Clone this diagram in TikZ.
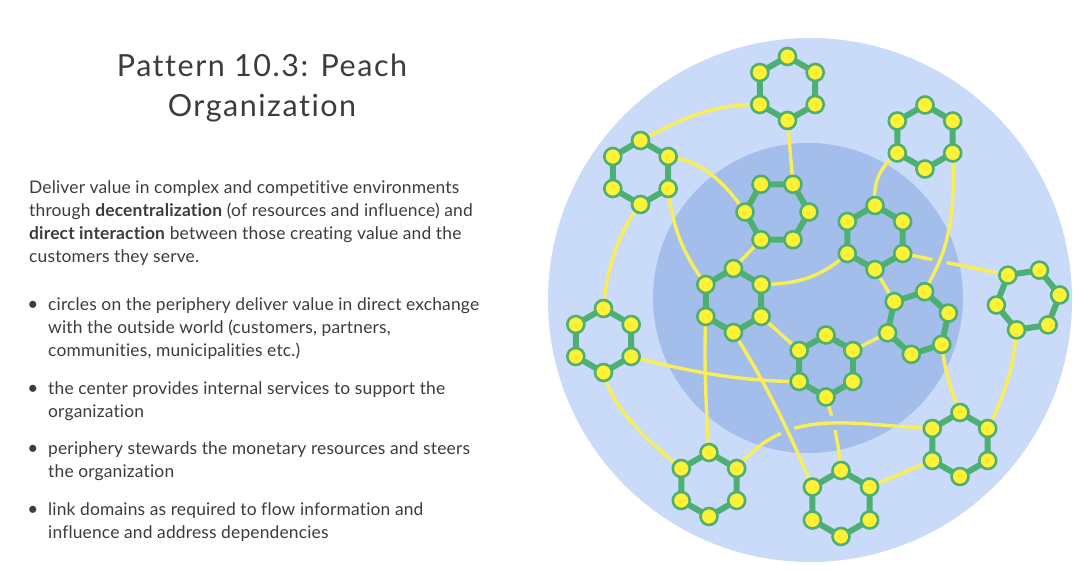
\documentclass[tikz,border=0pt]{standalone}
\usepackage{fontspec}
\setmainfont{Lato}[Ligatures=NoCommon, LetterSpace=1]
\newfontfamily\titlefont{Lato}[Ligatures=NoCommon, LetterSpace=5]
\usetikzlibrary{calc}
\definecolor{outerblue}{RGB}{201,219,248}
\definecolor{innerblue}{RGB}{164,190,235}
\definecolor{hexgreen}{RGB}{78,175,114}
\definecolor{dotyellow}{RGB}{255,242,54}
\definecolor{linkyellow}{RGB}{248,238,88}
\definecolor{textgray}{RGB}{60,60,60}
\pgfdeclarelayer{hexl}
\pgfdeclarelayer{dotl}
\pgfsetlayers{main,hexl,dotl}
\tikzset{
  dot/.style={circle, fill=dotyellow, draw=hexgreen, line width=2.6pt, minimum size=17pt, inner sep=0pt},
  hexedge/.style={draw=hexgreen, line width=6pt, line join=round},
  link/.style={draw=linkyellow, line width=3.4pt, line cap=round},
  halo/.style={draw=innerblue, line width=14pt},
  body/.style={anchor=base west, inner sep=0pt, text=textgray, font=\fontsize{17.4}{20}\selectfont},
  titletext/.style={anchor=base, inner sep=0pt, text=textgray, font=\titlefont\fontsize{30.5}{36}\selectfont},
  bul/.style={anchor=base, inner sep=0pt, text=textgray, font=\fontsize{19}{20}\selectfont}
}
% name, x, y, base angle, radius
\newcommand{\hexa}[5]{%
  \begin{pgfonlayer}{dotl}
    \foreach \k in {0,...,5} {\node[dot] (#1-\k) at ($(#2,#3)+({#4+60*\k}:#5)$) {};}
  \end{pgfonlayer}
  \begin{pgfonlayer}{hexl}
    \draw[hexedge] (#1-0.center) -- (#1-1.center) -- (#1-2.center) -- (#1-3.center) -- (#1-4.center) -- (#1-5.center) -- cycle;
  \end{pgfonlayer}
}
\begin{document}
\begin{tikzpicture}[x=1pt,y=-1pt]
\useasboundingbox (0,0) rectangle (1080,569);
\fill[white] (0,0) rectangle (1080,569);
% texts
\node[titletext] (t1) at (262,76.7) {Pattern 10.3: Peach};
\node[titletext] (t2) at (262,116.7) {Organization};
\node[body] (p1) at (29,194) {Deliver value in complex and competitive environments};
\node[body] (p2) at (29,217) {through \textbf{decentralization} (of resources and influence) and};
\node[body] (p3) at (29,240) {\textbf{direct interaction} between those creating value and the};
\node[body] (p4) at (29,263) {customers they serve.};
\node[bul] (b1) at (33,310.5) {•};
\node[body] (l1) at (48,310.5) {circles on the periphery deliver value in direct exchange};
\node[body] (l2) at (48,333.5) {with the outside world (customers, partners,};
\node[body] (l3) at (48,356.5) {communities, municipalities etc.)};
\node[bul] (b2) at (33,394.5) {•};
\node[body] (l4) at (48,394.5) {the center provides internal services to support the};
\node[body] (l5) at (48,417.5) {organization};
\node[bul] (b3) at (33,455) {•};
\node[body] (l6) at (48,455) {periphery stewards the monetary resources and steers};
\node[body] (l7) at (48,478) {the organization};
\node[bul] (b4) at (33,515.5) {•};
\node[body] (l8) at (48,515.5) {link domains as required to flow information and};
\node[body] (l9) at (48,538.5) {influence and address dependencies};
% circles
\fill[outerblue] (810,300) circle (262);
\fill[innerblue] (808,298) circle (155);
% hexagons
\hexa{h1}{787.5}{88.5}{-90}{32}
\hexa{h2}{925}{137}{-90}{32}
\hexa{h3}{640.5}{172.5}{-90}{32}
\hexa{h4}{777}{212}{0}{32}
\hexa{h5}{733.5}{300.5}{-90}{32}
\hexa{h6}{603.5}{340.5}{-90}{32}
\hexa{h7}{875}{237.5}{-90}{32}
\hexa{h8}{826}{366}{-90}{31}
\hexa{h9}{918}{323}{-78}{32}
\hexa{h10}{709}{484.5}{-90}{32}
\hexa{h11}{841}{503.5}{-90}{33}
\hexa{h12}{960}{444.5}{-90}{32}
\hexa{h13}{1028}{300}{-69}{32}
% links
\draw[link] (h1-4.center) .. controls +(-50,0) and +(42,-22) .. (h3-0.center);
\draw[link] (h1-3.center) -- (h4-5.center);
\draw[link] (h3-1.center) .. controls +(35,5) and +(-20,-29) .. (h4-3.center);
\draw[link] (h3-2.center) .. controls +(4,40) and +(-21,-28) .. (h5-5.center);
\draw[link] (h3-3.center) .. controls +(-22,27) and +(3,-40) .. (h6-0.center);
\draw[link] (h4-2.center) -- (h5-0.center);
\draw[link] (h5-1.center) .. controls +(45,0) and +(-20,18) .. (h7-4.center);
\draw[link] (h5-2.center) -- (h8-5.center);
\draw[link] (h5-4.center) .. controls +(-2,45) and +(-3,-45) .. (h10-0.center);
\draw[link] (h6-3.center) .. controls +(10,39) and +(-31,-26) .. (h10-5.center);
\draw[link] (h2-4.center) .. controls +(-19,16) and +(-2,-22) .. (h7-0.center);
\draw[link] (h7-3.center) -- (h9-5.center);
\draw[link] (h7-2.center) -- (h13-5.center);
\draw[link] (h9-4.center) -- (h8-1.center);
\draw[link] (h9-2.center) .. controls +(3,28) and +(-9,-23) .. (h12-0.center);
\draw[link] (h13-3.center) .. controls +(-3,40) and +(16,-31) .. (h12-1.center);
\draw[link] (h8-3.center) .. controls +(8,25) and +(-2,-25) .. (h11-0.center);
\draw[link] (h11-1.center) -- (h12-4.center);
% links crossing over others (with gap)
\begin{scope}
  \clip (808,298) circle (155);
  \draw[halo] (h10-1.center) .. controls +(52,-64) and +(-82,-3) .. (h12-5.center);
\end{scope}
\draw[link] (h10-1.center) .. controls +(52,-64) and +(-82,-3) .. (h12-5.center);
\begin{scope}
  \clip (808,298) circle (155);
  \draw[halo] (h5-3.center) .. controls +(30,46) and +(-21,-51) .. (h11-5.center);
\end{scope}
\draw[link] (h5-3.center) .. controls +(30,46) and +(-21,-51) .. (h11-5.center);
\begin{scope}
  \clip (808,298) circle (155);
  \draw[halo] (h2-2.center) .. controls +(5,95) and +(8,-20) .. (h9-0.center);
\end{scope}
\draw[link] (h2-2.center) .. controls +(5,95) and +(8,-20) .. (h9-0.center);
\draw[link] (h6-2.center) .. controls +(53,14) and +(-60,0) .. (h8-4.center);
\end{tikzpicture}
\end{document}
